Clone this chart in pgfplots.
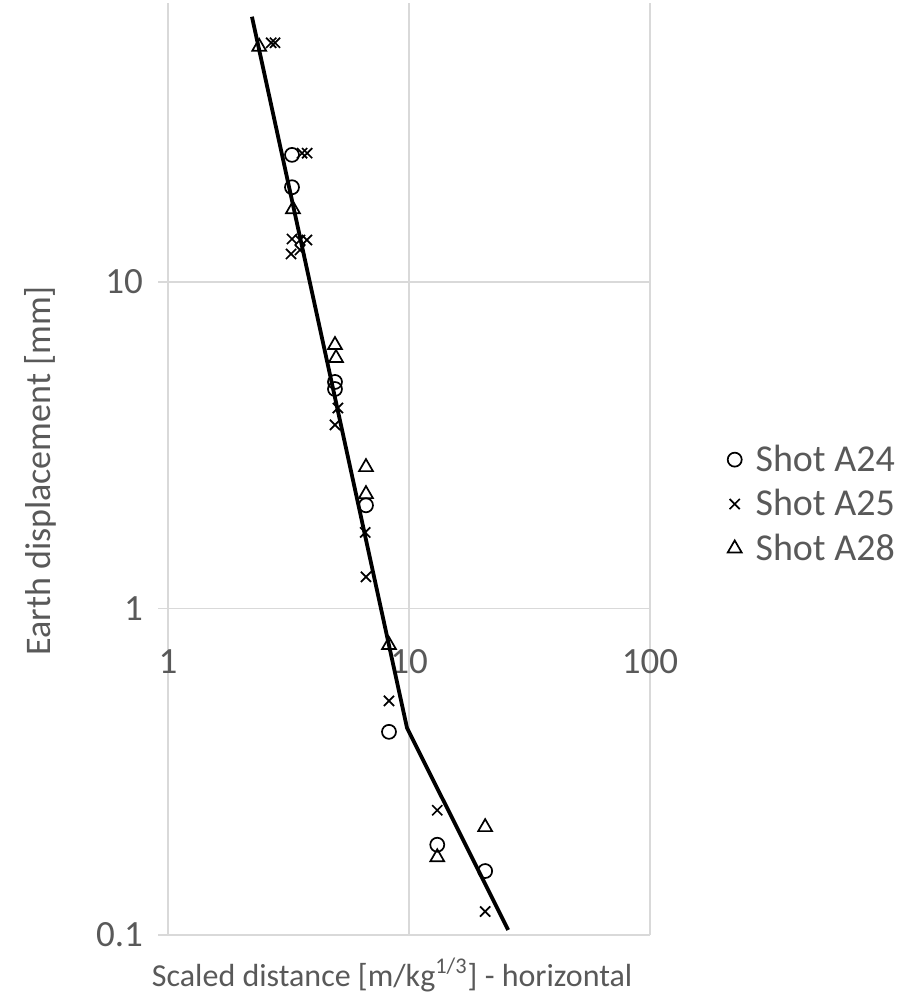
\documentclass[border=0pt]{standalone}
\usepackage{pgfplots}
\pgfplotsset{compat=1.18}
\usepackage{fontspec}
\setmainfont{Carlito}

\definecolor{gridgray}{HTML}{D9D9D9}
\definecolor{txtgray}{HTML}{595959}

\pgfplotsset{
  markleg/.style={legend image code/.code={
    \path (0pt,0pt) (16pt,0pt);
    \draw[mark repeat=2, mark phase=2, ##1]
      plot coordinates {(0pt,0pt)(8pt,0pt)(16pt,0pt)};}},
}

\begin{document}
\begin{tikzpicture}
\useasboundingbox (0,0) rectangle (458.5pt,498pt);
\begin{axis}[
  at={(84pt,30.5pt)}, anchor=south west,
  scale only axis, width=241pt, height=466pt,
  xmode=log, ymode=log,
  xmin=1, xmax=100, ymin=0.1, ymax=71.5,
  axis x line=middle, axis y line=left,
  axis line style={draw=gridgray, line width=0.75pt, -},
  grid=major,
  major grid style={draw=gridgray, line width=0.75pt},
  xminorticks=false, yminorticks=false,
  xtick={1,10,100}, xticklabels={1,10,100},
  ytick={0.1,1,10}, yticklabels={0.1,1,10},
  hide obscured x ticks=false, hide obscured y ticks=false,
  tick align=outside, major tick length=5pt,
  tick style={draw=gridgray, line width=0.75pt},
  /pgf/number format/assume math mode=true,
  ticklabel style={font=\fontsize{18.5}{20}\selectfont, text=txtgray},
  xticklabel style={yshift=-12pt},
  yticklabel style={xshift=-4pt},
  xlabel={Scaled distance [m/kg\textsuperscript{1/3}] - horizontal},
  ylabel={Earth displacement [mm]},
  xlabel style={font=\fontsize{16}{19}\selectfont, text=txtgray,
    at={(rel axis cs:0.465,0)}, anchor=center, yshift=-20pt},
  ylabel style={font=\fontsize{18}{21}\selectfont, text=txtgray,
    at={(rel axis cs:-0.2656,0.498)}, anchor=center, rotate=0},
  legend style={at={(rel axis cs:1.1275,0.4624)}, anchor=west, draw=none, fill=none,
    font=\fontsize{19}{21}\selectfont, text=txtgray,
    row sep=3.5pt},
  legend cell align=left,
]
% fitted trend, two straight segments on the log-log scale
\addplot[black, line width=1.9pt, forget plot] coordinates {
  (2.23,64.9) (9.81,0.431) (25.8,0.1036)
};
% Shot A24
\addplot[only marks, markleg, mark=o, mark size=3.5pt, black, line width=0.85pt] coordinates {
  (3.27,24.5) (3.27,19.5) (4.93,4.94) (4.93,4.70) (6.63,2.07)
  (8.26,0.419) (13.1,0.189) (20.7,0.157)
};
\addlegendentry{Shot A24}
% Shot A25
\addplot[only marks, markleg, mark=x, mark size=3.6pt, black, line width=0.85pt] coordinates {
  (2.68,54) (2.78,54) (3.60,24.8) (3.78,24.8)
  (3.27,13.54) (3.53,13.44) (3.77,13.44) (3.24,12.18) (3.53,12.53)
  (5.07,4.11) (4.93,3.65) (6.58,1.71) (6.63,1.25)
  (8.26,0.521) (13.1,0.241) (20.7,0.118)
};
\addlegendentry{Shot A25}
% Shot A28
\addplot[only marks, markleg, mark=triangle, mark size=4pt, black, line width=0.85pt] coordinates {
  (2.39,52.5) (3.30,16.7) (4.93,6.41) (4.98,5.85) (6.63,2.71) (6.63,2.24)
  (8.26,0.773) (13.1,0.173) (20.7,0.214)
};
\addlegendentry{Shot A28}
\end{axis}
\end{tikzpicture}
\end{document}
